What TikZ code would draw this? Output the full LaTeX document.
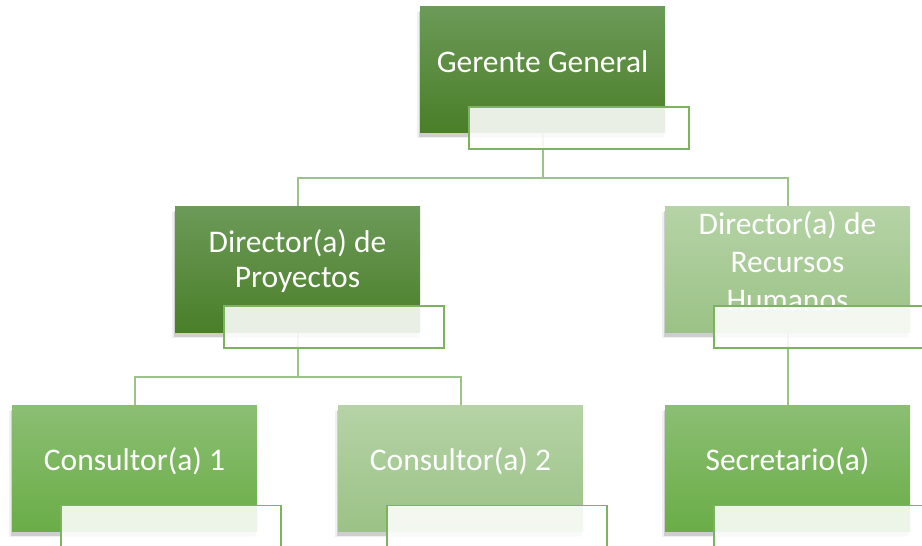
\documentclass[tikz,border=0pt]{standalone}
\usepackage{fontspec}
\setmainfont{Carlito}
\usetikzlibrary{shadows,backgrounds}
\definecolor{dkT}{RGB}{108,154,88}
\definecolor{dkB}{RGB}{74,126,40}
\definecolor{ltT}{RGB}{181,211,166}
\definecolor{ltB}{RGB}{155,194,134}
\definecolor{mdT}{RGB}{139,190,115}
\definecolor{mdB}{RGB}{106,173,71}
\definecolor{wbline}{RGB}{125,179,94}
\definecolor{connc}{RGB}{156,196,138}
\tikzset{
  posbox/.style={rectangle, minimum width=245pt, minimum height=126pt, inner sep=0pt, draw=none,
    drop shadow={shadow xshift=-3pt, shadow yshift=-5pt, opacity=0.12},
    drop shadow={shadow xshift=-1pt, shadow yshift=-4pt, opacity=0.3}},
  darkbox/.style={posbox, top color=dkT, bottom color=dkB},
  lightbox/.style={posbox, top color=ltT, bottom color=ltB},
  midbox/.style={posbox, top color=mdT, bottom color=mdB},
  wbox/.style={rectangle, minimum width=220pt, minimum height=42pt, inner sep=0pt,
    fill=white, fill opacity=0.88, draw=wbline, draw opacity=1, line width=1.3pt},
  lbl/.style={text=white, font=\fontsize{31.5}{35}\selectfont, inner sep=0pt, anchor=base},
  connector/.style={draw=connc, line width=2pt},
}
\begin{document}
\begin{tikzpicture}[x=1pt,y=1pt]
\useasboundingbox (0,0) rectangle (922,546);
% boxes
\node[darkbox] (g) at (542.5,476) {};
\node[lbl] (gt) at (542.5,473) {Gerente General};
\node[wbox] (gw) at (579,418) {};

\node[darkbox] (dp) at (297.5,276) {};
\node[lbl] (dpt) at (297.5,293) {\begin{tabular}[t]{@{}c@{}}Director(a) de\\Proyectos\end{tabular}};
\node[wbox] (dpw) at (334,219) {};

\node[lightbox] (drh) at (787.5,276) {};
\node[lbl, font=\fontsize{31.5}{38}\selectfont] (drht) at (787.5,311) {\begin{tabular}[t]{@{}c@{}}Director(a) de\\Recursos\\Humanos\end{tabular}};
\node[wbox] (drhw) at (824,219) {};

\node[midbox] (c1) at (134.5,77) {};
\node[lbl] (c1t) at (134.5,75) {Consultor(a) 1};
\node[wbox] (c1w) at (171,19.5) {};

\node[lightbox] (c2) at (460.5,77) {};
\node[lbl] (c2t) at (460.5,75) {Consultor(a) 2};
\node[wbox] (c2w) at (497,19.5) {};

\node[midbox] (s) at (787.5,77) {};
\node[lbl] (st) at (787.5,75) {Secretario(a)};
\node[wbox] (sw) at (824,19.5) {};

\coordinate (b1) at (542.5,368);
\coordinate (b2) at (297.5,169);
\begin{scope}[on background layer]
\draw[connector] (g.south) -- (b1) -| (dp.north);
\draw[connector] (b1) -| (drh.north);
\draw[connector] (dp.south) -- (b2) -| (c1.north);
\draw[connector] (b2) -| (c2.north);
\draw[connector] (drh.south) -- (s.north);
\end{scope}
\end{tikzpicture}
\end{document}
